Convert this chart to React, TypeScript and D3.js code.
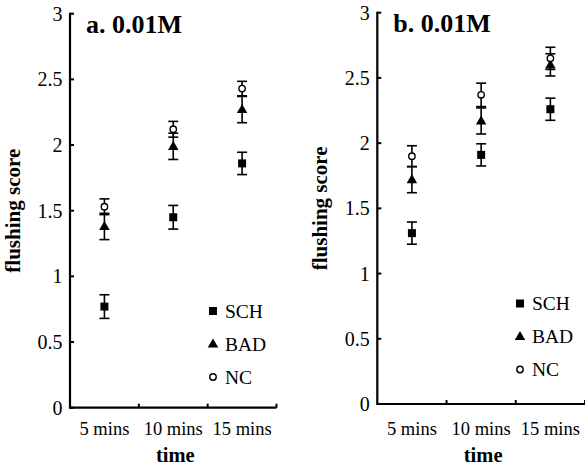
import React from 'react'
import * as d3 from 'd3'

const times = ['5 mins', '10 mins', '15 mins']
const groups = ['SCH', 'BAD', 'NC']
const yTicks = [0, 0.5, 1, 1.5, 2, 2.5, 3]

// panel a
const schA = [0.77, 1.45, 1.86]
const schAErr = [0.09, 0.09, 0.085]
const badA = [1.38, 1.99, 2.27]
const badAErr = [0.1, 0.1, 0.1]
const ncA = [1.53, 2.12, 2.43]
const ncAErr = [0.06, 0.06, 0.055]

// panel b
const schB = [1.31, 1.91, 2.26]
const schBErr = [0.085, 0.085, 0.085]
const badB = [1.72, 2.17, 2.6]
const badBErr = [0.1, 0.1, 0.085]
const ncB = [1.9, 2.37, 2.65]
const ncBErr = [0.08, 0.09, 0.085]

const FONT = "'Liberation Serif', 'DejaVu Serif', serif"

const Marker = ({ kind, x, y }) => {
  if (kind === 'SCH')
    return <rect x={x - 4} y={y - 4} width={8} height={8} fill="#000" />
  if (kind === 'BAD') {
    const sym = d3.symbol().type(d3.symbolTriangle).size(48)
    return <path d={sym()} transform={`translate(${x},${y + 0.5})`} fill="#000" />
  }
  return <circle cx={x} cy={y} r={3.2} fill="#fff" stroke="#000" strokeWidth={1.4} />
}

const Panel = ({ title, left, right, top, bottom, values, errors, legendX, legendY }) => {
  const x = d3.scaleBand().domain(times).range([left, right]).padding(0)
  const y = d3.scaleLinear().domain([0, 3]).range([bottom, top])
  const cap = 5
  const txt = { fontFamily: FONT }
  return (
    <g>
      {/* axes */}
      <line x1={left} x2={left} y1={y(3) - 1} y2={y(0) + 1} stroke="#000" strokeWidth={2.2} />
      <line x1={left} x2={right} y1={y(0)} y2={y(0)} stroke="#000" strokeWidth={2.2} />
      {yTicks.map(t => (
        <g key={t}>
          <line x1={left} x2={left + 4} y1={y(t)} y2={y(t)} stroke="#000" strokeWidth={2} />
          <text style={txt} x={left - 7.5} y={y(t)} dy="0.35em" textAnchor="end" fontSize={20}>
            {t}
          </text>
        </g>
      ))}
      {times.map(t => (
        <g key={t}>
          <line
            x1={x(t) + x.bandwidth()}
            x2={x(t) + x.bandwidth()}
            y1={y(0)}
            y2={y(0) - 4}
            stroke="#000"
            strokeWidth={2}
          />
          <text style={txt} x={x(t) + x.bandwidth() / 2} y={435} textAnchor="middle" fontSize={18.5}>
            {t}
          </text>
        </g>
      ))}
      <text
        style={txt}
        x={(left + right) / 2 + 2}
        y={462}
        textAnchor="middle"
        fontSize={20.5}
        fontWeight="bold"
      >
        time
      </text>
      <text
        style={txt}
        transform={`translate(${left - 50},${(top + bottom) / 2}) rotate(-90)`}
        textAnchor="middle"
        fontSize={21}
        fontWeight="bold"
      >
        flushing score
      </text>
      <text style={txt} x={left + 16} y={top + 19} fontSize={26} fontWeight="bold">
        {title}
      </text>

      {/* error bars + markers */}
      {groups.map((g, gi) =>
        times.map((t, i) => {
          const cx = x(t) + x.bandwidth() / 2
          const v = values[gi][i]
          const e = errors[gi][i]
          return (
            <g key={g + t}>
              <line x1={cx} x2={cx} y1={y(v - e)} y2={y(v + e)} stroke="#000" strokeWidth={1.6} />
              <line x1={cx - cap} x2={cx + cap} y1={y(v - e)} y2={y(v - e)} stroke="#000" strokeWidth={1.6} />
              <line x1={cx - cap} x2={cx + cap} y1={y(v + e)} y2={y(v + e)} stroke="#000" strokeWidth={1.6} />
              <Marker kind={g} x={cx} y={y(v)} />
            </g>
          )
        })
      )}

      {/* legend */}
      {groups.map((g, gi) => (
        <g key={g}>
          <Marker kind={g} x={legendX} y={legendY + gi * 33} />
          <text style={txt} x={legendX + 12} y={legendY + gi * 33} dy="0.35em" fontSize={19.5}>
            {g}
          </text>
        </g>
      ))}
    </g>
  )
}

const App = () => (
  <svg
    width={585}
    height={467}
    style={{ position: 'absolute', left: 0, top: 0, background: '#fff' }}
  >
    <Panel
      title="a. 0.01M"
      left={70}
      right={276.5}
      top={13.7}
      bottom={407.7}
      values={[schA, badA, ncA]}
      errors={[schAErr, badAErr, ncAErr]}
      legendX={213}
      legendY={311}
    />
    <Panel
      title="b. 0.01M"
      left={377.3}
      right={585}
      top={12.7}
      bottom={404}
      values={[schB, badB, ncB]}
      errors={[schBErr, badBErr, ncBErr]}
      legendX={520}
      legendY={303.5}
    />
  </svg>
)

export default App
